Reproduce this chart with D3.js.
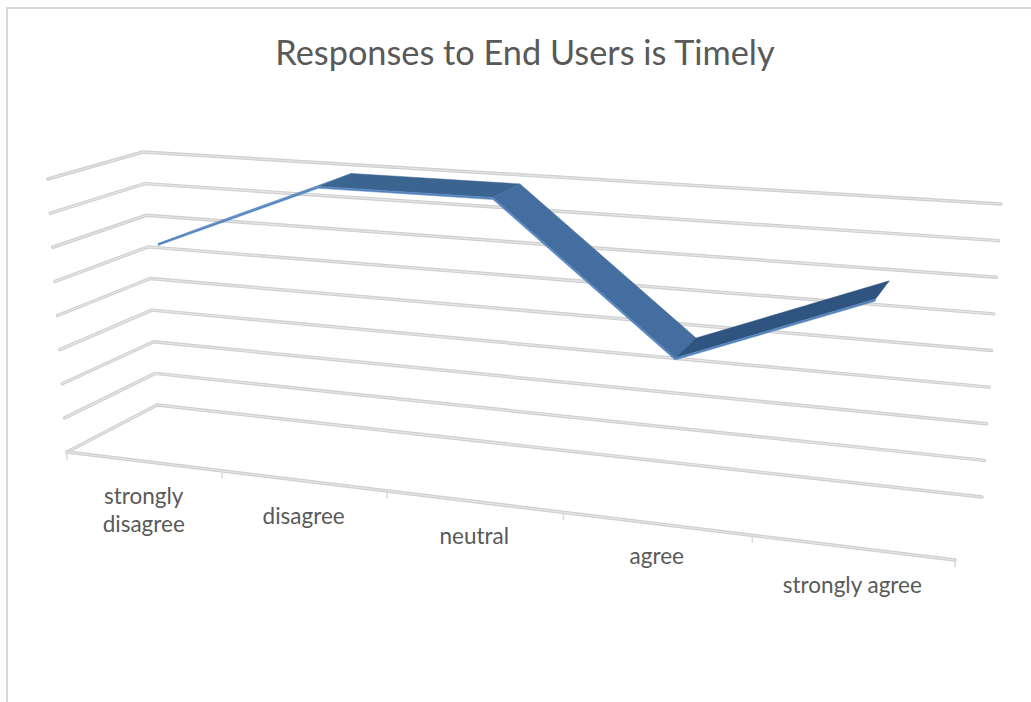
<!DOCTYPE html>
<html>
<head>
<meta charset="utf-8">
<script src="https://cdn.jsdelivr.net/npm/d3@7"></script>
<style>
  html, body { margin: 0; padding: 0; background: #fff; }
  svg { display: block; }
  text { font-family: Lato, "Open Sans", sans-serif; fill: #595959; }
</style>
</head>
<body>
<svg id="chart" width="1031" height="702"></svg>
<script>
// Chart content
const chartTitle = "Responses to End Users is Timely";
const categories = [["strongly", "disagree"], ["disagree"], ["neutral"], ["agree"], ["strongly agree"]];
const responses = [6, 8, 8, 4, 6];
const levels = d3.range(0, 9);
const segmentShades = ["#5f8bbd", "#3c6490", "#446da0", "#2f5480"];

// Box corners of the 3D plot area on screen
const floorFrontLeft = [67, 452], floorBackLeft = [157, 405], floorBackRight = [982, 497], floorFrontRight = [955, 560];
const topFrontLeft = [48, 179], topBackLeft = [143, 152], topBackRight = [1001, 204], topFrontRight = [979, 240];

// Vertical fine-tuning of each category label
const labelNudge = [-2, -2, -2, -5, 1];

const lerp = (a, b, f) => [a[0] + (b[0] - a[0]) * f, a[1] + (b[1] - a[1]) * f];

// Category band scale, with perspective foreshortening along the width
const bandScale = d3.scaleLinear().domain([0, categories.length]).range([0, 1]);
const foreshorten = u => u / (u + 1.183 * (1 - u));
const levelScale = d3.scaleLinear().domain(d3.extent(levels)).range([0, 1]);

// Map (category position, level, depth 0..1) to screen coordinates
function project(band, level, depth) {
  const t = foreshorten(bandScale(band));
  const h = levelScale(level);
  const floor = lerp(lerp(floorFrontLeft, floorFrontRight, t), lerp(floorBackLeft, floorBackRight, t), depth);
  const roof = lerp(lerp(topFrontLeft, topFrontRight, t), lerp(topBackLeft, topBackRight, t), depth);
  return lerp(floor, roof, h);
}

const svg = d3.select("#chart");
const path = d3.line();
const nBands = categories.length;

// Outer frame of the chart area
svg.append("path").attr("d", "M7 702V8H1031").attr("fill", "none").attr("stroke", "#d9d9d9").attr("stroke-width", 2);

svg.append("text").attr("x", 525).attr("y", 65).attr("text-anchor", "middle")
  .attr("font-size", 34.3).text(chartTitle);

// Gridlines run along the left wall and then across the back wall
const gridPoints = lv => [project(0, lv, 0), project(0, lv, 1), project(nBands, lv, 1)];
const gridGroup = svg.append("g").attr("fill", "none").attr("stroke-linejoin", "round").attr("stroke-linecap", "round");
gridGroup.selectAll(".grid-outer").data(levels).join("path").attr("class", "grid-outer")
  .attr("d", d => path(gridPoints(d))).attr("stroke", "#cfcfcf").attr("stroke-width", 3.5);
gridGroup.selectAll(".grid-inner").data(levels).join("path").attr("class", "grid-inner")
  .attr("d", d => path(gridPoints(d))).attr("stroke", "#e6e6e6").attr("stroke-width", 1.2);

// Front edge of the floor with its tick marks
const edge = [project(0, 0, 0), project(nBands, 0, 0)];
gridGroup.append("path").attr("d", path(edge)).attr("stroke", "#cfcfcf").attr("stroke-width", 3.5);
gridGroup.append("path").attr("d", path(edge)).attr("stroke", "#e6e6e6").attr("stroke-width", 1.2);
gridGroup.selectAll(".tick").data(d3.range(0, nBands + 1)).join("path").attr("class", "tick")
  .attr("d", d => {
    const p = project(d, 0, 0);
    return path([p, [p[0], p[1] + 7]]);
  }).attr("stroke", "#d9d9d9").attr("stroke-width", 1.5);

// Category labels sit below the front edge; a wrapped label grows upward
const labelGroup = svg.append("g").attr("font-size", 22.5).attr("text-anchor", "middle");
categories.forEach((lines, i) => {
  const p = project(i + 0.5, 0, 0);
  lines.forEach((line, j) => {
    labelGroup.append("text").attr("x", p[0] + 0.5)
      .attr("y", p[1] + 45 + labelNudge[i] + j * 28)
      .text(line);
  });
});

// Ribbon: depth-spanning top surface plus a thin front face for each segment
const depthFront = 0.3, depthBack = 0.74, faceThickness = 0.055;
const ribbon = svg.append("g").attr("stroke-linejoin", "round");
const segments = d3.pairs(responses.map((v, i) => ({ v, band: i + 0.5 })));
segments.forEach(([a, b], i) => {
  ribbon.append("path")
    .attr("d", path([
      project(a.band, a.v, depthFront), project(b.band, b.v, depthFront),
      project(b.band, b.v, depthBack), project(a.band, a.v, depthBack)
    ]) + "Z")
    .attr("fill", segmentShades[i]).attr("stroke", segmentShades[i]).attr("stroke-width", 0.5);
});
segments.forEach(([a, b]) => {
  ribbon.append("path")
    .attr("d", path([
      project(a.band, a.v, depthFront), project(b.band, b.v, depthFront),
      project(b.band, b.v - faceThickness, depthFront), project(a.band, a.v - faceThickness, depthFront)
    ]) + "Z")
    .attr("fill", "#4f81bd").attr("stroke", "#6a94c4").attr("stroke-width", 0.5);
});
</script>
</body>
</html>
